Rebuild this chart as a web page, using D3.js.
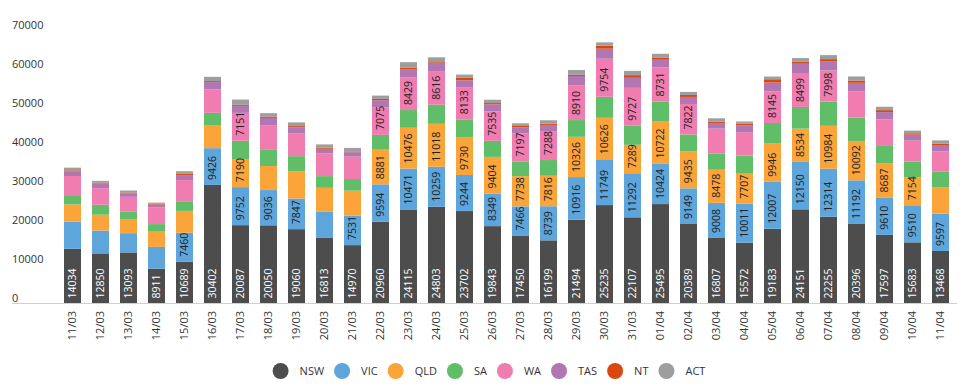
<!DOCTYPE html>
<html>
<head>
<meta charset="utf-8">
<script src="https://cdn.jsdelivr.net/npm/d3@7"></script>
<style>
  body { margin: 0; background: #fff; }
  svg { display: block; font-family: "Open Sans", sans-serif; }
</style>
</head>
<body>
<svg id="chart" width="969" height="388"></svg>
<script>
// dates on the x axis
const dates = ['11/03','12/03','13/03','14/03','15/03','16/03','17/03','18/03','19/03','20/03','21/03',
  '22/03','23/03','24/03','25/03','26/03','27/03','28/03','29/03','30/03','31/03',
  '01/04','02/04','03/04','04/04','05/04','06/04','07/04','08/04','09/04','10/04','11/04'];

const states = ['NSW', 'VIC', 'QLD', 'SA', 'WA', 'TAS', 'NT', 'ACT'];
const colors = ['#4d4d4d', '#5da5da', '#faa43a', '#60bd68', '#f17cb0', '#b276b2', '#d9480f', '#9e9e9e'];

const nsw = [14034,12850,13093,8911,10689,30402,20087,20050,19060,16813,14970,20960,24115,24803,23702,19843,17450,16199,21494,25235,22107,25495,20389,16807,15572,19183,24151,22255,20396,17597,15683,13468];
const vic = [6950,5850,4940,5600,7460,9426,9752,9036,7847,6680,7531,9594,10471,10259,9244,8349,7466,8739,10916,11749,11292,10424,9149,9008,10011,12007,12150,12314,11192,9610,9510,9597];
const qld = [4430,4070,3640,3900,5600,5930,7190,6170,6940,6170,6430,8881,10476,11018,9730,9404,7738,7816,10326,10626,7289,10722,9435,8478,7707,9946,8534,10984,10092,8687,7154,6680];
const sa  = [2370,2545,1960,1950,2470,3130,4700,4290,3930,3000,3000,3800,4540,4900,4540,4110,3780,4030,4300,5400,4880,5140,4370,4110,4630,5140,5570,6200,5990,4700,4030,4030];
const wa  = [4910,4250,3720,4330,5420,6030,7151,6170,5830,5810,5730,7075,8429,8616,8133,7535,7197,7288,8910,9754,9727,8731,7822,6430,6000,8145,8499,7998,6760,6600,5470,5220];
const tas = [1200,1270,860,680,1270,1860,1800,1880,1540,1200,1130,1800,2060,2160,1880,1800,1540,1720,2390,2570,2570,1980,1800,1460,1720,2230,2570,2400,2160,1880,1460,1460];
const nt  = [250,180,250,250,330,250,250,350,340,260,200,350,350,340,620,350,340,340,350,770,690,590,510,340,430,850,510,510,590,510,340,510];
const act = [690,430,510,250,680,1100,1360,850,950,860,900,850,1440,1030,850,850,690,850,1180,850,1100,950,770,850,600,690,950,1030,1030,870,690,850];

const yTicks = [0, 10000, 20000, 30000, 40000, 50000, 60000, 70000];

const series = [nsw, vic, qld, sa, wa, tas, nt, act];
const rows = dates.map((d, i) => {
  const r = { date: d };
  states.forEach((s, j) => { r[s] = series[j][i]; });
  return r;
});

const svg = d3.select('#chart');

const x = d3.scaleBand()
  .domain(dates)
  .range([58.5, 954.5])
  .paddingInner(11 / 28)
  .paddingOuter(5.5 / 28);

const y = d3.scaleLinear()
  .domain([0, 70000])
  .range([303.5, 30.5]);

const color = d3.scaleOrdinal().domain(states).range(colors);

const stacked = d3.stack().keys(states)(rows);

// y tick labels (no gridlines)
svg.append('g')
  .selectAll('text')
  .data(yTicks)
  .join('text')
  .attr('x', 12)
  .attr('y', d => y(d) - 2)
  .attr('font-size', 11)
  .attr('fill', '#333')
  .text(d => d);

// bars
const layers = svg.append('g')
  .selectAll('g')
  .data(stacked)
  .join('g')
  .attr('fill', d => color(d.key));

layers.selectAll('rect')
  .data(d => d)
  .join('rect')
  .attr('x', d => x(d.data.date))
  .attr('width', x.bandwidth())
  .attr('y', d => y(d[1]))
  .attr('height', d => y(d[0]) - y(d[1]));

// value labels inside the bigger segments, starting at the segment base
const labels = svg.append('g');
stacked.forEach(layer => {
  layer.forEach(d => {
    const v = d[1] - d[0];
    if (v < 7000) return;
    const cx = x(d.data.date) + x.bandwidth() / 2;
    labels.append('text')
      .attr('transform', `translate(${cx},${y(d[0]) - 5}) rotate(-90)`)
      .attr('dy', '0.35em')
      .attr('font-size', 10.5)
      .attr('fill', layer.key === 'NSW' ? '#fff' : '#222')
      .text(v);
  });
});

// baseline
svg.append('line')
  .attr('x1', 12).attr('x2', 957)
  .attr('y1', y(0)).attr('y2', y(0))
  .attr('stroke', '#d0d0d0')
  .attr('stroke-width', 1);

// x labels
svg.append('g')
  .selectAll('text')
  .data(dates)
  .join('text')
  .attr('transform', d => `translate(${x(d) + x.bandwidth() / 2},311) rotate(-90)`)
  .attr('dy', '0.35em')
  .attr('text-anchor', 'end')
  .attr('font-size', 11)
  .attr('fill', '#333')
  .text(d => d);

// legend
const legend = svg.append('g');
let lx = 0;
states.forEach((s, i) => {
  const g = legend.append('g').attr('transform', `translate(${lx},371)`);
  g.append('circle').attr('r', 8).attr('fill', colors[i]);
  const t = g.append('text')
    .attr('x', 19)
    .attr('dy', '0.35em')
    .attr('font-size', 11)
    .attr('fill', '#333')
    .text(s);
  lx += 19 + t.node().getComputedTextLength() + 18;
});
const legendWidth = lx - 18 + 8;
legend.attr('transform', `translate(${489 - legendWidth / 2 + 8},0)`);
</script>
</body>
</html>
